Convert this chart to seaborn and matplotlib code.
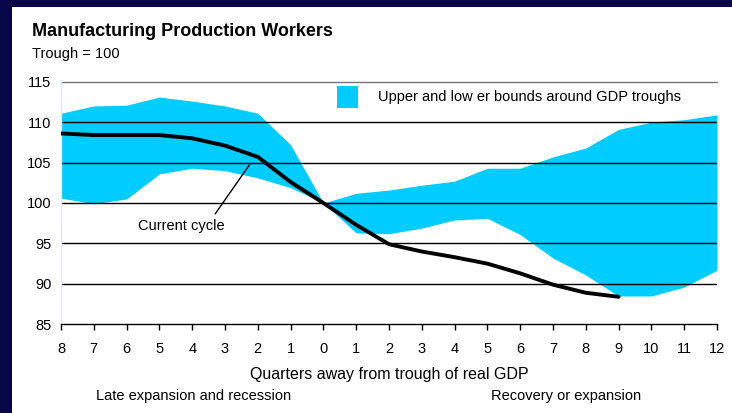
import matplotlib
matplotlib.use("Agg")
import matplotlib.pyplot as plt
import seaborn as sns
import pandas as pd
from matplotlib.patches import Rectangle

quarters = list(range(-8, 13))
upper = [111.1, 112.0, 112.1, 113.1, 112.6, 112.0, 111.1, 107.2, 100.0, 101.2, 101.6,
         102.2, 102.7, 104.3, 104.3, 105.7, 106.8, 109.1, 110.0, 110.3, 110.9]
lower = [100.6, 99.9, 100.5, 103.6, 104.3, 104.0, 103.1, 101.9, 100.0, 96.3, 96.2,
         96.9, 97.9, 98.1, 96.1, 93.2, 91.1, 88.5, 88.5, 89.6, 91.7]
cur_quarters = list(range(-8, 10))
current = [108.6, 108.4, 108.4, 108.4, 108.0, 107.1, 105.7, 102.6, 100.0, 97.3, 94.9,
           94.0, 93.3, 92.5, 91.3, 89.9, 88.9, 88.4]
tick_labels = [str(abs(q)) for q in quarters]
yticks = [85, 90, 95, 100, 105, 110, 115]

sns.set_theme(style="white")
plt.rcParams['font.family'] = ['Liberation Sans', 'DejaVu Sans']
plt.rcParams['text.color'] = 'black'
plt.rcParams['xtick.color'] = 'black'
plt.rcParams['ytick.color'] = 'black'
plt.rcParams['axes.labelcolor'] = 'black'

W, H = 732, 413
fig = plt.figure(figsize=(W / 100, H / 100), dpi=100)
fig.patch.set_facecolor('#07074a')
fig.patches.append(Rectangle((12 / W, 0), 1 - 12 / W, 1 - 7 / H, transform=fig.transFigure,
                             facecolor='white', edgecolor='none', zorder=-5))

ax = fig.add_axes([61 / W, 1 - 324.3 / H, (717 - 61) / W, (324.3 - 81.7) / H])
ax.set_facecolor('none')

band_color = '#00ccff'
ax.fill_between(quarters, lower, upper, color=band_color, linewidth=0, zorder=1)
for y in [90, 95, 100, 105, 110]:
    ax.axhline(y, color='black', linewidth=1.0, zorder=2)
ax.axhline(115, color='#777777', linewidth=1.0, zorder=2, clip_on=False)

df = pd.DataFrame({'q': cur_quarters, 'v': current})
sns.lineplot(data=df, x='q', y='v', ax=ax, color='black', linewidth=2.8, zorder=3)

ax.set_xlim(-8, 12)
ax.set_ylim(85, 115)
ax.set_xticks(quarters)
ax.set_xticklabels(tick_labels, fontsize=10.5)
ax.set_yticks(yticks)
ax.set_yticklabels([str(v) for v in yticks], fontsize=10.5)
ax.tick_params(axis='x', direction='out', length=4, width=1, color='black', pad=9, bottom=True)
ax.tick_params(axis='y', length=0, pad=7)
ax.set_xlabel('')
ax.set_ylabel('')
for s in ['top', 'right']:
    ax.spines[s].set_visible(False)
ax.spines['bottom'].set_color('black')
ax.spines['bottom'].set_linewidth(1.0)
ax.spines['left'].set_color('#c8f2ff')
ax.spines['left'].set_linewidth(1.0)

# Annotation for current cycle
ax.annotate('Current cycle', xy=(-2.24, 104.8), xytext=(-4.34, 97.1), fontsize=10.5,
            ha='center', va='center', color='black')
ax.plot([-3.30, -2.24], [98.65, 104.8], color='black', linewidth=1.0, zorder=3)

# Legend-like box
fig.patches.append(Rectangle((337 / W, 1 - 108 / H), 21 / W, 22 / H, transform=fig.transFigure,
                             facecolor=band_color, edgecolor='none', zorder=5))
fig.text(378 / W, 1 - 97 / H, 'Upper and low er bounds around GDP troughs', fontsize=10.5,
         va='center', ha='left')

fig.text(32 / W, 1 - 32 / H, 'Manufacturing Production Workers', fontsize=13, fontweight='bold',
         va='center', ha='left')
fig.text(32 / W, 1 - 54 / H, 'Trough = 100', fontsize=10.5, va='center', ha='left')
fig.text(389 / W, 1 - 375 / H, 'Quarters away from trough of real GDP', fontsize=11.5,
         va='center', ha='center')
fig.text(194 / W, 1 - 396 / H, 'Late expansion and recession', fontsize=10.5,
         va='center', ha='center')
fig.text(566 / W, 1 - 396 / H, 'Recovery or expansion', fontsize=10.5,
         va='center', ha='center')

fig.savefig('out.png', dpi=100, facecolor=fig.get_facecolor())
